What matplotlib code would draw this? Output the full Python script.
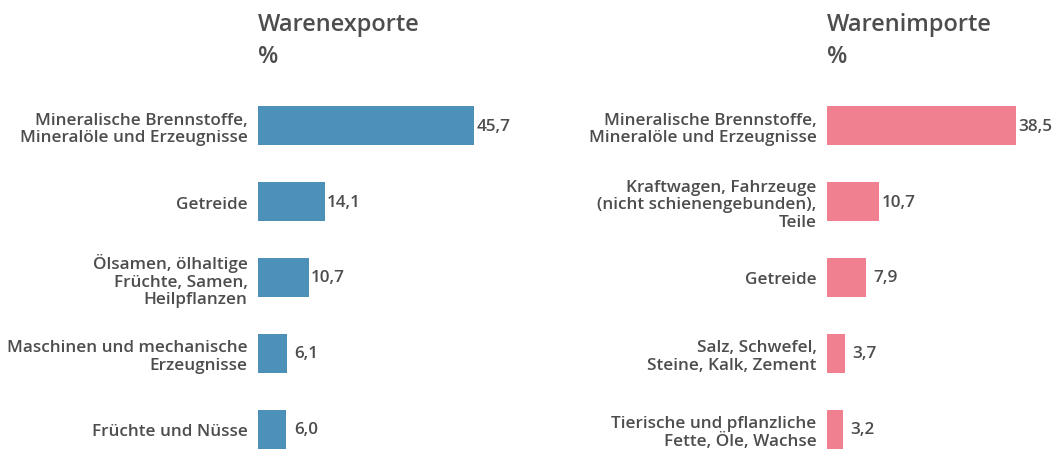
import matplotlib
matplotlib.use("Agg")
import matplotlib.pyplot as plt

# Daten
export_labels = [
    "Mineralische Brennstoffe,\nMineralöle und Erzeugnisse",
    "Getreide",
    "Ölsamen, ölhaltige\nFrüchte, Samen,\nHeilpflanzen",
    "Maschinen und mechanische\nErzeugnisse",
    "Früchte und Nüsse",
]
export_values = [45.7, 14.1, 10.7, 6.1, 6.0]

import_labels = [
    "Mineralische Brennstoffe,\nMineralöle und Erzeugnisse",
    "Kraftwagen, Fahrzeuge\n(nicht schienengebunden),\nTeile",
    "Getreide",
    "Salz, Schwefel,\nSteine, Kalk, Zement",
    "Tierische und pflanzliche\nFette, Öle, Wachse",
]
import_values = [38.5, 10.7, 7.9, 3.7, 3.2]

W, H = 1059, 452
TEXT = "#4d4d4d"
plt.rcParams["font.family"] = ["Open Sans", "DejaVu Sans"]
plt.rcParams["font.weight"] = "semibold"

fig = plt.figure(figsize=(W / 100, H / 100), dpi=100)


def px_axes(x0, width):
    # Achsen in Pixelkoordinaten: oben 89 px, unten 452 px
    top, bottom = 89, 452
    return fig.add_axes([x0 / W, 1 - bottom / H, width / W, (bottom - top) / H])


def draw_panel(ax, labels, values, color, xmax, title):
    ypos = list(range(len(values)))
    ax.barh(ypos, values, height=0.515, color=color)
    ax.set_xlim(0, xmax)
    ax.set_ylim(4.29, -0.5)
    ax.set_yticks(ypos)
    ax.set_yticklabels(labels, fontsize=12.3, color=TEXT, linespacing=1.12)
    ax.tick_params(axis="y", length=0, pad=7.5)
    ax.set_xticks([])
    for s in ax.spines.values():
        s.set_visible(False)
    for y, v in zip(ypos, values):
        ax.annotate(f"{v:.1f}".replace(".", ","), (v, y), xytext=(14, 0),
                    textcoords="offset points", ha="center", va="center",
                    fontsize=12.3, color=TEXT)
    x0 = ax.get_position().x0
    fig.text(x0, 1 - 13 / H, title, fontsize=17, color=TEXT, va="top", ha="left")
    fig.text(x0, 1 - 45 / H, "%", fontsize=17, color=TEXT, va="top", ha="left")


ax1 = px_axes(258, 50 * 4.72)
draw_panel(ax1, export_labels, export_values, "#4d91b8", 50, "Warenexporte")

ax2 = px_axes(827, 45 * 4.9)
draw_panel(ax2, import_labels, import_values, "#f08090", 45, "Warenimporte")

fig.savefig("out.png", dpi=100)
